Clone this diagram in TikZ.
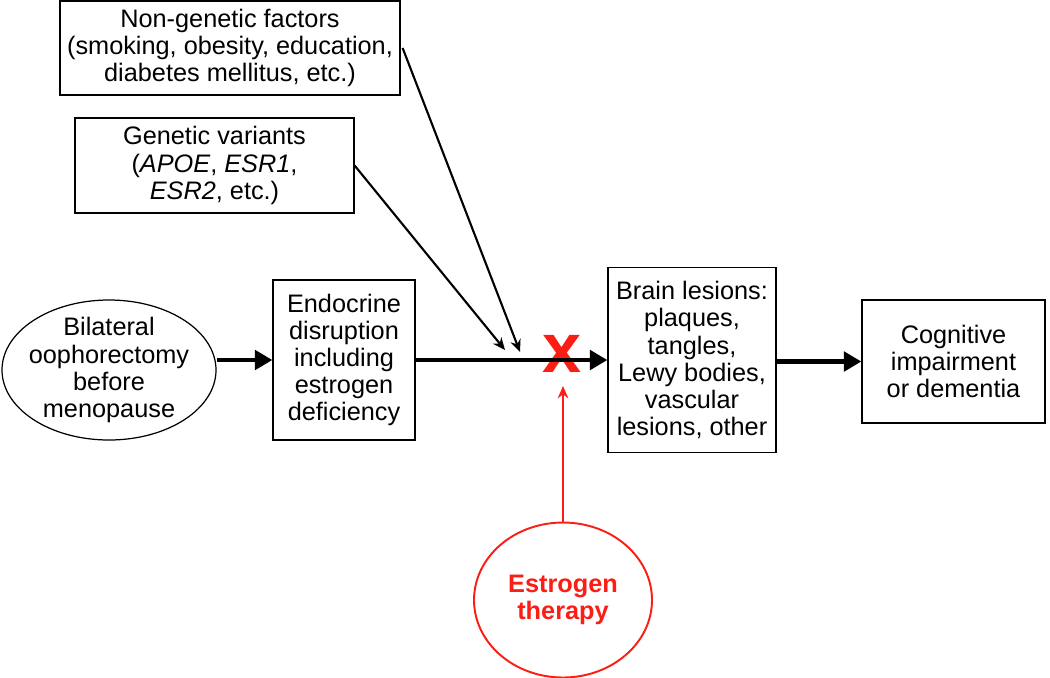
\documentclass[tikz,border=0pt]{standalone}
\usepackage{fontspec}
\setmainfont{Liberation Sans}
\usetikzlibrary{arrows.meta, shapes.geometric}

\definecolor{therapyred}{RGB}{250,30,20}

\begin{document}
\begin{tikzpicture}[x=0.02cm, y=-0.02cm]
    % settings for this picture
    \tikzset{
      every node/.style={font=\fontsize{14.4}{15.4}\selectfont, align=center, inner sep=0pt},
      factorbox/.style={draw, line width=0.7pt},
      stagebox/.style={draw, line width=0.7pt},
      flow/.style={line width=2.8pt, -{Triangle[length=10pt, width=11pt]}},
      influence/.style={line width=1.2pt, -{Stealth[length=7pt, width=6pt]}},
      block/.style={draw=therapyred, line width=1.1pt, -{Stealth[length=7pt, width=6pt]}},
    }
    \useasboundingbox (0,0) rectangle (1050,677);

    % factors
    \node[factorbox, minimum width=340*0.02cm, minimum height=94*0.02cm] (nongen) at (230,48)
      {Non-genetic factors\\(smoking, obesity, education,\\diabetes mellitus, etc.)};
    \node[factorbox, minimum width=279*0.02cm, minimum height=95*0.02cm] (gen) at (214.5,165.5)
      {Genetic variants\\(\textit{APOE}, \textit{ESR1},\\\textit{ESR2}, etc.)};

    % stages
    \node[ellipse, draw, line width=0.7pt, inner sep=-3pt, minimum width=214*0.02cm, minimum height=140*0.02cm] (oopho) at (109,370)
      {Bilateral\\oophorectomy\\before\\menopause};
    \node[stagebox, minimum width=142*0.02cm, minimum height=160*0.02cm] (endo) at (344,360)
      {Endocrine\\disruption\\including\\estrogen\\deficiency};
    \node[stagebox, minimum width=168*0.02cm, minimum height=185*0.02cm] (brain) at (692,360)
      {Brain lesions:\\plaques,\\tangles,\\Lewy bodies,\\vascular\\lesions, other};
    \node[stagebox, minimum width=183*0.02cm, minimum height=123*0.02cm] (cogn) at (953.5,361.5)
      {Cognitive\\impairment\\or dementia};

    % intervention
    \node[ellipse, draw=therapyred, line width=1.1pt, text=therapyred, font=\fontsize{14.4}{15.4}\selectfont\bfseries,
      minimum width=178*0.02cm, minimum height=155*0.02cm] (therapy) at (563,600) {Estrogen\\therapy};
    \node[text=therapyred, font=\fontsize{40}{40}\selectfont\bfseries] (cross) at (562,354) {x};

    \coordinate (hitgen) at (505,350);
    \coordinate (hitnon) at (520,352);
    \coordinate (hitx) at (563,386);

    % connections
    \draw[flow] (endo.west -| oopho.east) -- (endo.west);
    \draw[flow] (endo.east) -- (brain.west);
    \draw[flow] (brain.east |- cogn.west) -- (cogn.west);
    \draw[influence] (nongen.east) ++(2,0) -- (hitnon);
    \draw[influence] (gen.east) -- (hitgen);
    \draw[block] (therapy.north) -- (hitx);

\end{tikzpicture}
\end{document}
